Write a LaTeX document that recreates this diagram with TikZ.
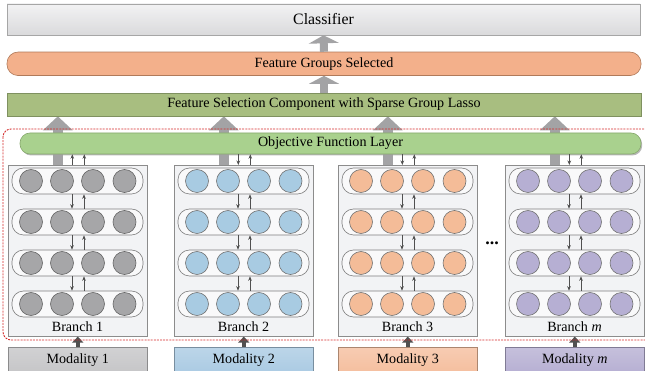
\documentclass[tikz,border=0pt]{standalone}
\usepackage{fontspec}
\setmainfont{Liberation Serif}
\usetikzlibrary{arrows.meta,calc,shadows}
\definecolor{clsTop}{HTML}{F2F2F3}
\definecolor{clsBot}{HTML}{DADADC}
\definecolor{fgsFill}{HTML}{F3B08B}
\definecolor{fgsDraw}{HTML}{B07A5A}
\definecolor{fscFill}{HTML}{A8BE80}
\definecolor{fscDraw}{HTML}{7F9160}
\definecolor{objFill}{HTML}{A9D18E}
\definecolor{objDraw}{HTML}{86A86C}
\definecolor{bigGray}{HTML}{A3A3A5}
\definecolor{darkArr}{HTML}{505050}
\definecolor{brFill}{HTML}{F2F3F5}
\definecolor{brDraw}{HTML}{8C8C8C}
\definecolor{rowFill}{HTML}{F9F9FA}
\definecolor{redDash}{HTML}{D42A2A}
\definecolor{cGray}{HTML}{A6A6A8}
\definecolor{cBlue}{HTML}{A8CBE2}
\definecolor{cOrange}{HTML}{F4BC98}
\definecolor{cPurple}{HTML}{B6AFD3}
\definecolor{mGray}{HTML}{C6C6C8}
\definecolor{mBlue}{HTML}{ABCBE3}
\definecolor{mOrange}{HTML}{F5BF9F}
\definecolor{mPurple}{HTML}{B7B0D3}
\pgfdeclarelayer{back}
\pgfsetlayers{back,main}
\begin{document}
\begin{tikzpicture}[x=1pt,y=-1pt,
  txt/.style={font=\fontsize{14.1}{16}\selectfont},
  wide/.style={txt, inner sep=0pt, line width=0.6pt},
  bigarrA/.style={draw=bigGray, line width=8pt, -{Triangle[width=30pt,length=8pt]}},
  bigarrB/.style={draw=bigGray, line width=10pt, -{Triangle[width=29pt,length=14pt]}},
  modarr/.style={draw=darkArr, line width=3.5pt, -{Triangle[width=11pt,length=6pt]}},
  sarr/.style={draw=darkArr, line width=0.6pt, -{Stealth[length=4.5pt,width=3.6pt]}},
  branchbox/.style={draw=brDraw, fill=brFill, line width=0.6pt, minimum width=139pt, minimum height=171pt, inner sep=0pt, anchor=north west},
  rowbox/.style={draw=brDraw!90!black, fill=rowFill, line width=0.6pt, minimum width=131pt, minimum height=26pt, rounded corners=11.5pt, inner sep=0pt},
  circ/.style={circle, line width=0.6pt, minimum size=23pt, inner sep=0pt},
  modbox/.style={txt, line width=0.6pt, minimum width=139pt, minimum height=25pt, inner sep=0pt, anchor=north west}
]
\useasboundingbox (0,0) rectangle (645,371);
\clip (0,0) rectangle (645,371);

% top layers
\node[wide, draw=gray!70, top color=clsTop, bottom color=clsBot, minimum width=633pt, minimum height=31pt, font=\fontsize{15.8}{18}\selectfont] (cls) at (323.5,19.5) {Classifier};
\node[wide, draw=fgsDraw, fill=fgsFill, minimum width=634pt, minimum height=23.5pt, rounded corners=11pt] (fgs) at (324,63.8) {Feature Groups Selected};
\node[wide, draw=fscDraw, fill=fscFill, minimum width=634pt, minimum height=23pt] (fsc) at (324,104.5) {Feature Selection Component with Sparse Group Lasso};
\draw[bigarrA] (fgs.north) -- (cls.south);
\draw[bigarrA] (fsc.north) -- (fgs.south);

% objective layer
\node[wide, draw=objDraw, fill=objFill, minimum width=621pt, minimum height=21pt, rounded corners=10pt,
  drop shadow={shadow xshift=1.2pt, shadow yshift=-1.5pt, fill=gray!70, opacity=0.8}] (obj) at (330.5,143.5) {Objective Function Layer};

% branches
\foreach \i/\x/\lab/\cf/\cd/\mf/\mlab in {
  1/8/{Branch 1}/cGray/black!60/mGray/{Modality 1},
  2/174/{Branch 2}/cBlue/black!55/mBlue/{Modality 2},
  3/338/{Branch 3}/cOrange/black!55/mOrange/{Modality 3},
  4/505/{Branch \textit{m}}/cPurple/black!55/mPurple/{Modality \textit{m}}} {
  \node[branchbox] (br\i) at (\x,165) {};
  \node[txt, inner sep=0pt] (bl\i) at (\x+69.5,326.5) {\lab};
  \foreach \j/\yy in {1/181,2/222,3/263,4/304} {
    \node[rowbox] (r\i-\j) at (\x+69.5,\yy) {};
    \foreach \k/\cx in {1/23,2/54,3/85,4/116.5}
      \node[circ, fill=\cf, draw=\cd] (c\i-\j-\k) at (\x+\cx,\yy) {};
  }
  \foreach \j/\n in {1/2,2/3,3/4} {
    \draw[sarr] ($(r\i-\j.south)+(-5.5,0)$) -- ($(r\i-\n.north)+(-5.5,0)$);
    \draw[sarr] ($(r\i-\n.north)+(6.5,0)$) -- ($(r\i-\j.south)+(6.5,0)$);
  }
  \coordinate (d\i) at ($(br\i.north)+(-5.5,0)$);
  \coordinate (u\i) at ($(br\i.north)+(6.5,0)$);
  \coordinate (g\i) at ($(br\i.north)+(-20,0)$);
  \begin{pgfonlayer}{back}
    \draw[bigarrB] (g\i) -- (g\i |- fsc.south);
  \end{pgfonlayer}
  \draw[sarr] (u\i) -- (u\i |- obj.south);
  \node[modbox, draw=\mf!70!black, top color=\mf!80!white, bottom color=\mf] (mod\i) at (\x,347) {\mlab};
  \draw[modarr] (mod\i.north) -- (br\i.south);
}
% first branch: both arrows up; others: down and up
\draw[sarr] (d1) -- (d1 |- obj.south);
\foreach \i in {2,3,4}
  \draw[sarr] (d\i |- obj.south) -- (d\i);

% dots
\node[font=\fontsize{18}{20}\selectfont\bfseries, inner sep=0pt, anchor=base] (dots) at (492,245) {...};

% dashed frame
\draw[redDash, line width=0.9pt, dash pattern=on 2pt off 1.1pt, rounded corners=8pt] (3,129) rectangle (655,340);
\end{tikzpicture}
\end{document}
